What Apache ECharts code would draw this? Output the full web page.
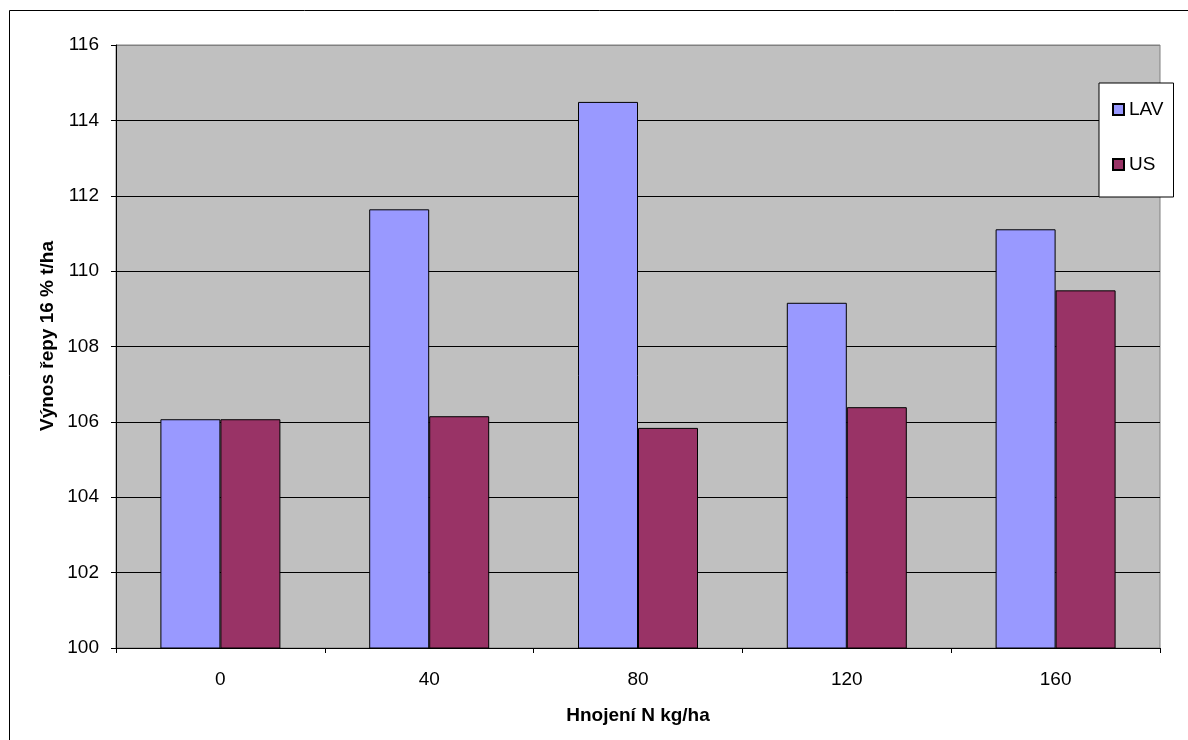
<!DOCTYPE html>
<html>
<head>
<meta charset="utf-8">
<script src="https://cdn.jsdelivr.net/npm/echarts@6/dist/echarts.min.js"></script>
<style>
  html, body { margin: 0; padding: 0; background: #fff; }
  #chart { width: 1188px; height: 740px; }
</style>
</head>
<body>
<div id="chart"></div>
<script>
// Nitrogen fertilisation levels (kg/ha)
const categories = ['0', '40', '80', '120', '160'];
// Beet yield at 16 % sugar, t/ha
const lavValues = [106.07, 111.64, 114.49, 109.16, 111.11];
const usValues = [106.07, 106.15, 105.84, 106.39, 109.49];
const seriesNames = ['LAV', 'US'];
const yAxisTitle = 'Výnos řepy 16 % t/ha';
const xAxisTitle = 'Hnojení N kg/ha';

const FONT = '"Liberation Sans", Arial, sans-serif';

const chart = echarts.init(document.getElementById('chart'), null, { renderer: 'canvas' });

chart.setOption({
  animation: false,
  backgroundColor: '#fff',
  textStyle: { fontFamily: FONT, color: '#000' },
  graphic: [
    {
      // outer chart frame
      type: 'rect',
      shape: { x: 9.5, y: 10.5, width: 1200, height: 800 },
      style: { fill: 'none', stroke: '#000', lineWidth: 1 },
      silent: true,
      z: -1
    },
    {
      // value axis title
      type: 'text',
      x: 48,
      y: 336,
      rotation: Math.PI / 2,
      style: {
        text: yAxisTitle,
        fontFamily: FONT,
        fontSize: 19,
        fontWeight: 'bold',
        fill: '#000',
        align: 'center',
        verticalAlign: 'middle'
      },
      silent: true
    }
  ],
  grid: {
    left: 116, right: 28, top: 45, bottom: 92,
    show: true,
    backgroundColor: '#C0C0C0',
    borderColor: '#808080',
    borderWidth: 1,
    containLabel: false
  },
  legend: {
    orient: 'vertical',
    left: 1099,
    top: 83,
    data: seriesNames,
    icon: 'rect',
    itemWidth: 11,
    itemHeight: 11,
    itemGap: 34,
    padding: [16, 10, 22, 13],
    backgroundColor: '#fff',
    borderColor: '#000',
    borderWidth: 1,
    borderRadius: 0,
    textStyle: { fontFamily: FONT, fontSize: 19, color: '#000', lineHeight: 21 }
  },
  xAxis: {
    type: 'category',
    data: categories,
    name: xAxisTitle,
    nameLocation: 'middle',
    nameGap: 58,
    nameTextStyle: { fontFamily: FONT, fontSize: 19, fontWeight: 'bold', color: '#000' },
    axisLine: { show: true, lineStyle: { color: '#000', width: 1 } },
    axisTick: { show: true, length: 5, lineStyle: { color: '#000' } },
    axisLabel: { fontFamily: FONT, fontSize: 19, color: '#000', margin: 22 },
    splitLine: { show: false }
  },
  yAxis: {
    type: 'value',
    min: 100,
    max: 116,
    interval: 2,
    axisLine: { show: true, lineStyle: { color: '#000', width: 1 } },
    axisTick: { show: true, length: 5, lineStyle: { color: '#000' } },
    axisLabel: { fontFamily: FONT, fontSize: 19, color: '#000', margin: 17 },
    splitLine: {
      show: true,
      lineStyle: {
        color: ['#000', '#000', '#000', '#000', '#000', '#000', '#000', '#000', '#808080'],
        width: 1
      }
    }
  },
  series: [
    {
      name: seriesNames[0],
      type: 'bar',
      data: lavValues,
      barWidth: 60,
      barGap: '0%',
      itemStyle: { color: '#9999FF', borderColor: '#000', borderWidth: 1 }
    },
    {
      name: seriesNames[1],
      type: 'bar',
      data: usValues,
      barWidth: 60,
      barGap: '0%',
      itemStyle: { color: '#993366', borderColor: '#000', borderWidth: 1 }
    }
  ]
});
</script>
</body>
</html>
